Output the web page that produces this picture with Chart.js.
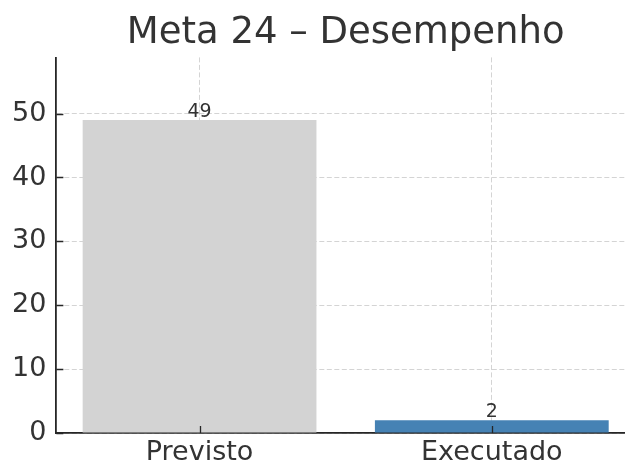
<!DOCTYPE html>
<html>
<head>
<meta charset="utf-8">
<script src="https://cdn.jsdelivr.net/npm/chart.js@4.4.1/dist/chart.umd.min.js"></script>
<style>
  html, body { margin: 0; padding: 0; background: #fff; overflow: hidden; }
  #wrap { width: 640px; height: 466px; position: relative; }
</style>
</head>
<body>
<div id="wrap"><canvas id="myChart"></canvas></div>
<script>
// dados
const titulo = 'Meta 24 – Desempenho';
const categorias = ['Previsto', 'Executado'];
const valores = [49, 2];
const yTicks = [0, 10, 20, 30, 40, 50];
const yMax = 58.8;

const corTexto = '#333333';
const corEixo = '#262626';
const corGrade = 'rgba(176,176,176,0.55)';
const fonte = 'DejaVu Sans';

// rótulos acima das barras
const rotulosBarras = {
    id: 'rotulosBarras',
    afterDatasetsDraw(chart) {
        const ctx = chart.ctx;
        const meta = chart.getDatasetMeta(0);
        ctx.save();
        ctx.font = '19px "' + fonte + '"';
        ctx.fillStyle = corTexto;
        ctx.textAlign = 'center';
        ctx.textBaseline = 'alphabetic';
        meta.data.forEach((bar, i) => {
            ctx.fillText(String(valores[i]), bar.x, bar.y - 3);
        });
        ctx.restore();
    }
};

// ticks para dentro, como no original
const ticksInternos = {
    id: 'ticksInternos',
    afterDraw(chart) {
        const ctx = chart.ctx;
        const x = chart.scales.x;
        const y = chart.scales.y;
        ctx.save();
        ctx.strokeStyle = corEixo;
        ctx.lineWidth = 1.3;
        ctx.beginPath();
        yTicks.forEach(v => {
            const py = Math.round(y.getPixelForValue(v)) + 0.5;
            ctx.moveTo(x.left, py);
            ctx.lineTo(x.left + 7, py);
        });
        categorias.forEach((c, i) => {
            const px = Math.round(x.getPixelForValue(i)) + 0.5;
            ctx.moveTo(px, y.bottom);
            ctx.lineTo(px, y.bottom - 7);
        });
        ctx.stroke();
        ctx.restore();
    }
};

const ctx = document.getElementById('myChart').getContext('2d');
const myChart = new Chart(ctx, {
    type: 'bar',
    data: {
        datasets: [{
            data: valores.map((v, i) => ({ x: i, y: v })),
            backgroundColor: ['#d3d3d3', '#4682b4'],
            borderWidth: 0,
            categoryPercentage: 1,
            barPercentage: 0.8
        }]
    },
    options: {
        responsive: true,
        maintainAspectRatio: false,
        animation: false,
        layout: {
            padding: { left: 2, right: 5, top: 0, bottom: -6 }
        },
        plugins: {
            legend: { display: false },
            tooltip: { enabled: false },
            title: {
                display: true,
                text: titulo,
                fullSize: false,
                color: corTexto,
                font: { family: fonte, size: 37, weight: 'normal' },
                padding: { top: 11, bottom: 2 }
            }
        },
        scales: {
            x: {
                type: 'linear',
                min: -0.49,
                max: 1.49,
                offset: false,
                z: 1,
                afterBuildTicks(scale) {
                    scale.ticks = categorias.map((c, i) => ({ value: i }));
                },
                ticks: {
                    color: corTexto,
                    font: { family: fonte, size: 27, lineHeight: 1 },
                    padding: 6,
                    maxRotation: 0,
                    callback: (v) => categorias[v]
                },
                grid: {
                    color: corGrade,
                    lineWidth: 1,
                    offset: false,
                    drawTicks: false,
                    tickLength: 0
                },
                border: { display: true, color: corEixo, width: 1.8, dash: [5, 2.5] }
            },
            y: {
                min: 0,
                max: yMax,
                z: 1,
                afterBuildTicks(scale) {
                    scale.ticks = yTicks.map(v => ({ value: v }));
                },
                ticks: {
                    color: corTexto,
                    font: { family: fonte, size: 27 },
                    padding: 10
                },
                grid: {
                    color: corGrade,
                    lineWidth: 1,
                    drawTicks: false
                },
                border: { display: true, color: corEixo, width: 1.8, dash: [5, 2.5] }
            }
        }
    },
    plugins: [rotulosBarras, ticksInternos]
});
</script>
</body>
</html>
